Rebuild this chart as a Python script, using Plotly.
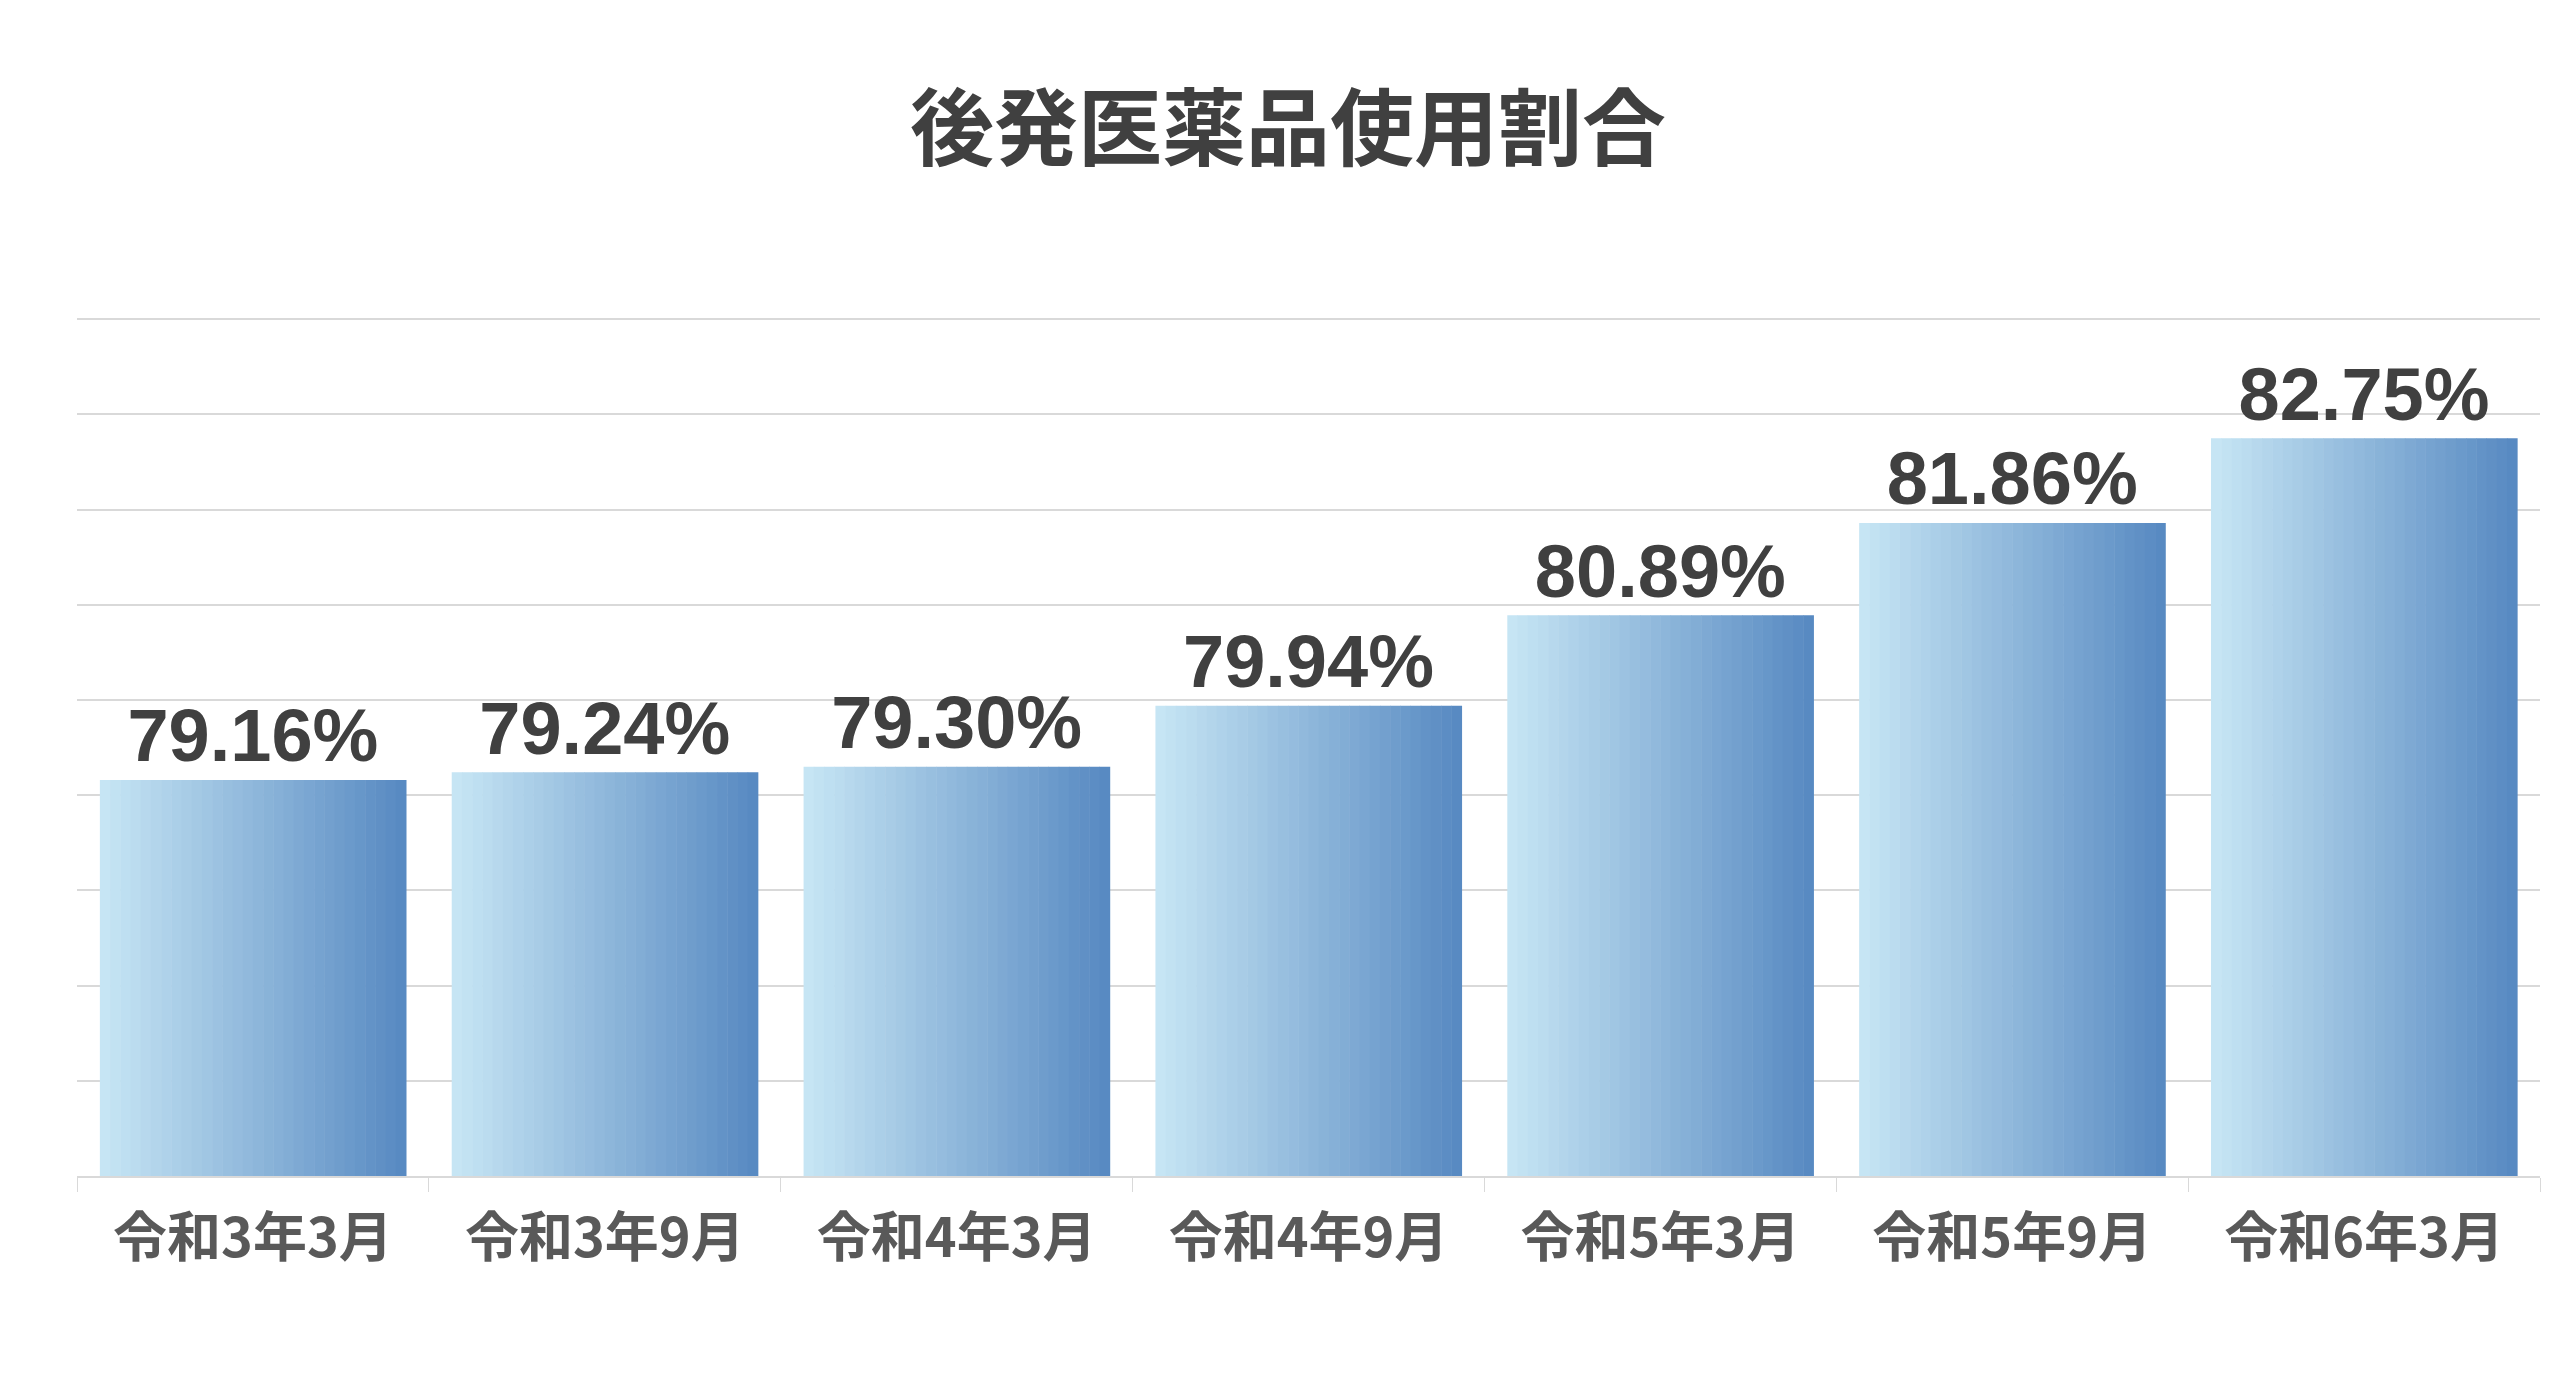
import plotly.graph_objects as go

categories = ["令和3年3月", "令和3年9月", "令和4年3月", "令和4年9月", "令和5年3月", "令和5年9月", "令和6年3月"]
values = [79.16, 79.24, 79.30, 79.94, 80.89, 81.86, 82.75]
labels = ["79.16%", "79.24%", "79.30%", "79.94%", "80.89%", "81.86%", "82.75%"]
AXIS_MIN = 75

FONT = "Noto Sans CJK JP"
fig = go.Figure()

heights = [v - AXIS_MIN for v in values]
N = 30
bw = 0.87
c0 = (198, 229, 244)
c1 = (88, 138, 194)
for i in range(N):
    t = i / (N - 1)
    col = "rgb(%d,%d,%d)" % tuple(round(a + (b - a) * t) for a, b in zip(c0, c1))
    fig.add_trace(go.Bar(x=categories, y=heights, base=AXIS_MIN, offset=-bw / 2 + i * bw / N,
                         width=bw / N * 1.05, marker=dict(color=col, line_width=0),
                         hoverinfo="skip", showlegend=False))
fig.add_trace(go.Scatter(x=categories, y=values, mode="text", text=labels,
                         textposition="top center",
                         textfont=dict(size=74, color="#404040", family="Liberation Sans, Arial", weight="bold"),
                         showlegend=False, cliponaxis=False))

fig.update_layout(
    width=2560, height=1387, barmode="overlay",
    paper_bgcolor="white", plot_bgcolor="white",
    margin=dict(l=69, r=28, t=216, b=219),
    title=dict(text="<b>後発医薬品使用割合</b>", x=0.5, xanchor="center", y=0.912, yanchor="middle",
               font=dict(size=84, color="#404040", family=FONT)),
    yaxis=dict(range=[75, 85], dtick=1, showticklabels=False, gridcolor="#d9d9d9",
               gridwidth=2, zeroline=False, fixedrange=True),
    xaxis=dict(tickfont=dict(size=54, color="#595959", family=FONT, weight="bold"),
               showline=True, linecolor="#d9d9d9", linewidth=2, ticks="outside",
               ticklen=14, tickcolor="#d9d9d9", tickson="boundaries", ticklabelstandoff=14),
)
fig.write_html("out.html")
